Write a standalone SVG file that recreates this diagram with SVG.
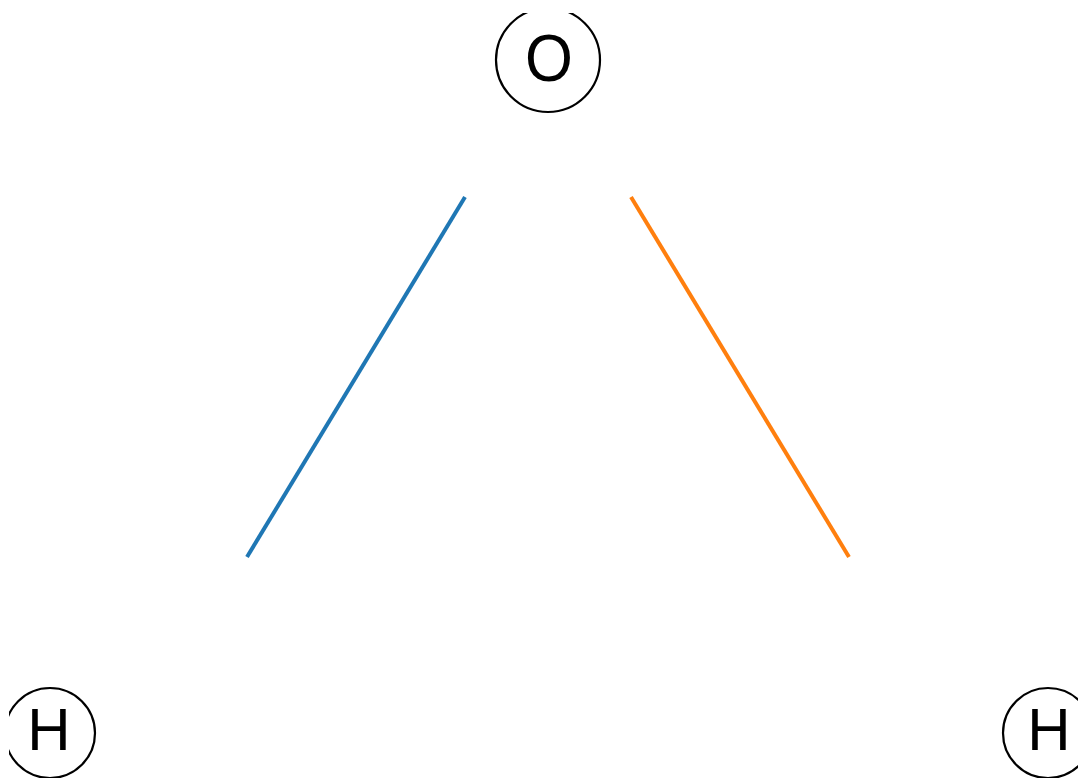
<svg xmlns="http://www.w3.org/2000/svg" width="1078" height="778" viewBox="0 0 1078 778">
  <style>
    .atom circle { fill: none; stroke: #000; stroke-width: 2.2; }
    .atom text { font-family: "Liberation Sans", "DejaVu Sans", sans-serif; font-size: 60px; fill: #000; text-anchor: middle; }
    .atom text.big { font-size: 67px; }
    .bond { stroke-width: 4; stroke-linecap: butt; fill: none; }
  </style>
  <defs>
    <clipPath id="area">
      <rect x="9" y="13" width="1069" height="765"/>
    </clipPath>
  </defs>
  <rect width="1078" height="778" fill="#ffffff"/>
  <g id="connectors">
    <line class="bond" x1="247" y1="557" x2="465" y2="197" stroke="#1f77b4"/>
    <line class="bond" x1="631" y1="197" x2="849" y2="557" stroke="#ff7f0e"/>
  </g>
  <g clip-path="url(#area)">
    <g id="node-O" class="atom">
      <circle cx="548" cy="60" r="52"/>
      <text class="big" x="0" y="81" transform="translate(549 0) scale(0.92 1)">O</text>
    </g>
    <g id="node-H1" class="atom">
      <circle cx="50" cy="733" r="45"/>
      <text x="49" y="750">H</text>
    </g>
    <g id="node-H2" class="atom">
      <circle cx="1048" cy="733" r="45"/>
      <text x="1049" y="750">H</text>
    </g>
  </g>
</svg>
